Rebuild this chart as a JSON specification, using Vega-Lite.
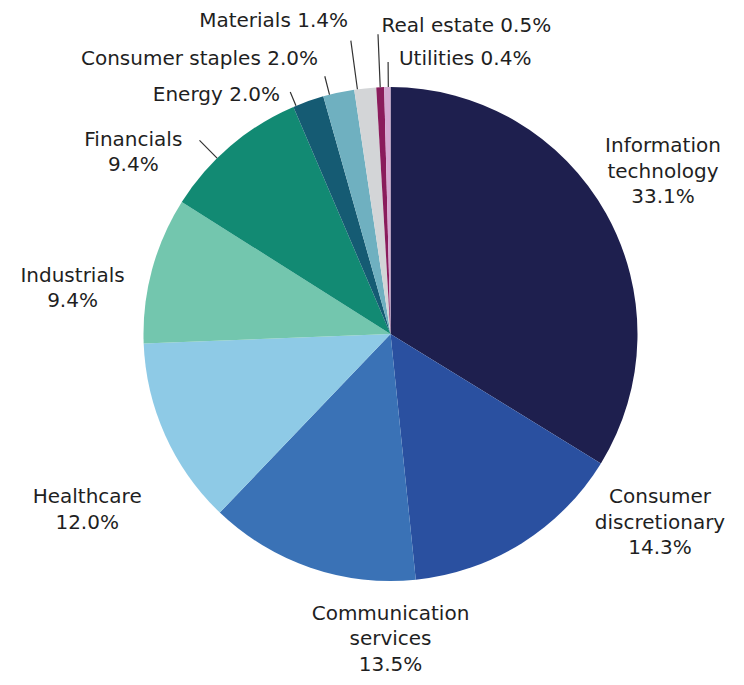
{
  "$schema": "https://vega.github.io/schema/vega-lite/v6.json",
  "width": 708,
  "height": 668,
  "autosize": {"type": "none"},
  "padding": {"left": 36.5, "top": 0, "right": 0, "bottom": 17},
  "background": "white",
  "config": {"view": {"stroke": null}},
  "data": {
    "values": [
      {"sector": "Information technology", "pct": 33.1, "label": "Information\ntechnology\n33.1%"},
      {"sector": "Consumer discretionary", "pct": 14.3, "label": "Consumer\ndiscretionary\n14.3%"},
      {"sector": "Communication services", "pct": 13.5, "label": "Communication\nservices\n13.5%"},
      {"sector": "Healthcare", "pct": 12.0, "label": "Healthcare\n12.0%"},
      {"sector": "Industrials", "pct": 9.4, "label": "Industrials\n9.4%"},
      {"sector": "Financials", "pct": 9.4, "label": "Financials\n9.4%"},
      {"sector": "Energy", "pct": 2.0, "label": "Energy 2.0%"},
      {"sector": "Consumer staples", "pct": 2.0, "label": "Consumer staples 2.0%"},
      {"sector": "Materials", "pct": 1.4, "label": "Materials 1.4%"},
      {"sector": "Real estate", "pct": 0.5, "label": "Real estate 0.5%"},
      {"sector": "Utilities", "pct": 0.4, "label": "Utilities 0.4%"}
    ]
  },
  "transform": [{"window": [{"op": "row_number", "as": "rank"}]}],
  "encoding": {
    "theta": {"field": "pct", "type": "quantitative", "stack": true},
    "order": {"field": "rank", "type": "quantitative"}
  },
  "layer": [
    {
      "mark": {"type": "arc", "radius": 247},
      "encoding": {
        "color": {
          "field": "sector",
          "type": "nominal",
          "legend": null,
          "scale": {
            "domain": ["Information technology", "Consumer discretionary", "Communication services", "Healthcare", "Industrials", "Financials", "Energy", "Consumer staples", "Materials", "Real estate", "Utilities"],
            "range": ["#1e1f4e", "#2a50a0", "#3a72b6", "#8ecae6", "#73c6ae", "#128a73", "#155b73", "#6fb0c0", "#d3d5d7", "#8a1c5c", "#d3aad2"]
          }
        }
      }
    },
    {
      "mark": {"type": "arc", "radius": 262, "radius2": 247, "padAngle": 3, "thetaOffset": -0.0529, "theta2Offset": -0.0529, "filled": false, "stroke": "#333333", "strokeWidth": 1.2},
      "encoding": {"strokeOpacity": {"condition": {"test": "datum.sector === 'Energy'", "value": 1}, "value": 0}}
    },
    {
      "mark": {"type": "arc", "radius": 266, "radius2": 247, "padAngle": 3, "thetaOffset": -0.038, "theta2Offset": -0.038, "filled": false, "stroke": "#333333", "strokeWidth": 1.2},
      "encoding": {"strokeOpacity": {"condition": {"test": "datum.sector === 'Consumer staples'", "value": 1}, "value": 0}}
    },
    {
      "mark": {"type": "arc", "radius": 296, "radius2": 247, "padAngle": 3, "thetaOffset": -0.0318, "theta2Offset": -0.0318, "filled": false, "stroke": "#333333", "strokeWidth": 1.2},
      "encoding": {"strokeOpacity": {"condition": {"test": "datum.sector === 'Materials'", "value": 1}, "value": 0}}
    },
    {
      "mark": {"type": "arc", "radius": 300, "radius2": 247, "padAngle": 3, "filled": false, "stroke": "#333333", "strokeWidth": 1.2},
      "encoding": {"strokeOpacity": {"condition": {"test": "datum.sector === 'Real estate'", "value": 1}, "value": 0}}
    },
    {
      "mark": {"type": "arc", "radius": 272, "radius2": 247, "padAngle": 3, "thetaOffset": 0.004, "theta2Offset": 0.004, "filled": false, "stroke": "#333333", "strokeWidth": 1.2},
      "encoding": {"strokeOpacity": {"condition": {"test": "datum.sector === 'Utilities'", "value": 1}, "value": 0}}
    },
    {
      "mark": {"type": "arc", "radius": 272, "radius2": 247, "padAngle": 3, "thetaOffset": -0.0731, "theta2Offset": -0.0731, "filled": false, "stroke": "#333333", "strokeWidth": 1.2},
      "encoding": {"strokeOpacity": {"condition": {"test": "datum.sector === 'Financials'", "value": 1}, "value": 0}}
    },
    {
      "mark": {"type": "text", "radius": 331.0, "thetaOffset": -0.0941, "align": "center", "baseline": "middle", "lineBreak": "\n", "lineHeight": 25.5, "font": "DejaVu Sans", "fontSize": 20, "color": "#1f1f1f"},
      "encoding": {"text": {"condition": {"test": "datum.sector === 'Information technology'", "field": "label"}, "value": ""}}
    },
    {
      "mark": {"type": "text", "radius": 315.0, "thetaOffset": -0.4657, "align": "center", "baseline": "middle", "lineBreak": "\n", "lineHeight": 25.5, "font": "DejaVu Sans", "fontSize": 20, "color": "#1f1f1f"},
      "encoding": {"text": {"condition": {"test": "datum.sector === 'Consumer discretionary'", "field": "label"}, "value": ""}}
    },
    {
      "mark": {"type": "text", "radius": 279.8, "thetaOffset": -0.3302, "align": "center", "baseline": "middle", "lineBreak": "\n", "lineHeight": 25.5, "font": "DejaVu Sans", "fontSize": 20, "color": "#1f1f1f"},
      "encoding": {"text": {"condition": {"test": "datum.sector === 'Communication services'", "field": "label"}, "value": ""}}
    },
    {
      "mark": {"type": "text", "radius": 344.4, "thetaOffset": -0.0703, "align": "center", "baseline": "middle", "lineBreak": "\n", "lineHeight": 25.5, "font": "DejaVu Sans", "fontSize": 20, "color": "#1f1f1f"},
      "encoding": {"text": {"condition": {"test": "datum.sector === 'Healthcare'", "field": "label"}, "value": ""}}
    },
    {
      "mark": {"type": "text", "radius": 323.3, "thetaOffset": -0.081, "align": "center", "baseline": "middle", "lineBreak": "\n", "lineHeight": 25.5, "font": "DejaVu Sans", "fontSize": 20, "color": "#1f1f1f"},
      "encoding": {"text": {"condition": {"test": "datum.sector === 'Industrials'", "field": "label"}, "value": ""}}
    },
    {
      "mark": {"type": "text", "radius": 322.4, "thetaOffset": -0.2183, "align": "center", "baseline": "middle", "lineBreak": "\n", "lineHeight": 25.5, "font": "DejaVu Sans", "fontSize": 20, "color": "#1f1f1f"},
      "encoding": {"text": {"condition": {"test": "datum.sector === 'Financials'", "field": "label"}, "value": ""}}
    },
    {
      "mark": {"type": "text", "radius": 262.9, "thetaOffset": -0.0941, "align": "right", "baseline": "middle", "font": "DejaVu Sans", "fontSize": 20, "color": "#1f1f1f"},
      "encoding": {"text": {"condition": {"test": "datum.sector === 'Energy'", "field": "label"}, "value": ""}}
    },
    {
      "mark": {"type": "text", "radius": 284.3, "thetaOffset": -0.0463, "align": "right", "baseline": "middle", "font": "DejaVu Sans", "fontSize": 20, "color": "#1f1f1f"},
      "encoding": {"text": {"condition": {"test": "datum.sector === 'Consumer staples'", "field": "label"}, "value": ""}}
    },
    {
      "mark": {"type": "text", "radius": 316.1, "thetaOffset": -0.0323, "align": "right", "baseline": "middle", "font": "DejaVu Sans", "fontSize": 20, "color": "#1f1f1f"},
      "encoding": {"text": {"condition": {"test": "datum.sector === 'Materials'", "field": "label"}, "value": ""}}
    },
    {
      "mark": {"type": "text", "radius": 308.6, "thetaOffset": 0.0126, "align": "left", "baseline": "middle", "font": "DejaVu Sans", "fontSize": 20, "color": "#1f1f1f"},
      "encoding": {"text": {"condition": {"test": "datum.sector === 'Real estate'", "field": "label"}, "value": ""}}
    },
    {
      "mark": {"type": "text", "radius": 275.0, "thetaOffset": 0.0436, "align": "left", "baseline": "middle", "font": "DejaVu Sans", "fontSize": 20, "color": "#1f1f1f"},
      "encoding": {"text": {"condition": {"test": "datum.sector === 'Utilities'", "field": "label"}, "value": ""}}
    }
  ]
}
